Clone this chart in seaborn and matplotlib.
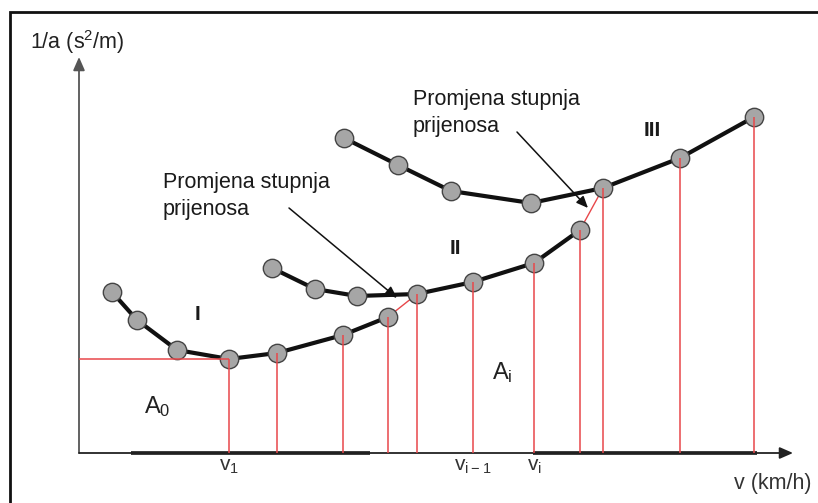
import matplotlib.pyplot as plt
import pandas as pd
import seaborn as sns
from matplotlib.patches import Rectangle

# speed v (km/h) and 1/a (s2/m), per gear
gear1_v = [6.6, 11.6, 19.6, 30.0, 39.6, 52.8, 61.8]
gear1_inv_a = [1.61, 1.33, 1.03, 0.94, 1.00, 1.18, 1.36]
gear2_v = [38.6, 47.2, 55.6, 67.6, 78.8, 91.0, 100.2]
gear2_inv_a = [1.85, 1.64, 1.57, 1.59, 1.71, 1.90, 2.23]
gear3_v = [53.0, 63.8, 74.4, 90.4, 104.8, 120.2, 135.0]
gear3_inv_a = [3.15, 2.88, 2.62, 2.50, 2.65, 2.95, 3.36]

# points of the optimal gear that are used for integration
first_used = {"I": 3, "II": 3, "III": 4}

gear_labels = ["I", "II", "III"]
gear_label_pos = [(23.8, 1.38), (75.2, 2.05), (114.6, 3.23)]
tick_labels = ["v$_1$", "v$_{i\u22121}$", "v$_i$"]
tick_v = [30.0, 78.8, 91.0]
thick_axis_parts = [(10.4, 58.2), (90.8, 135.6)]

# gear change notes: text corner, arrow start, arrow tip
notes_text = [(16.8, 2.81), (66.8, 3.64)]
notes_from = [(42.0, 2.45), (87.6, 3.21)]
notes_to = [(63.6, 1.55), (101.8, 2.45)]

frames = []
for name, v, inv_a in zip(gear_labels, [gear1_v, gear2_v, gear3_v],
                          [gear1_inv_a, gear2_inv_a, gear3_inv_a]):
    frames.append(pd.DataFrame({"gear": name, "v": v, "inv_a": inv_a}))
df = pd.concat(frames, ignore_index=True)

env = pd.concat(
    [f.iloc[first_used[g]:] for g, f in zip(gear_labels, frames)],
    ignore_index=True,
)

sns.set_style("white")
plt.rcParams["font.family"] = ["Liberation Sans", "DejaVu Sans"]
plt.rcParams["mathtext.default"] = "regular"

fig = plt.figure(figsize=(8.18, 5.03), dpi=100)
ax = fig.add_axes([0, 0, 1, 1])
ax.set_xlim(-15.8, 147.8)
ax.set_ylim(-0.5, 4.53)
ax.axis("off")

fig.patches.append(Rectangle((9.5 / 818, -0.1), 1.2, 1 - 12.5 / 503 + 0.1,
                             transform=fig.transFigure, fill=False,
                             edgecolor="#111111", linewidth=2))

# axes with arrows
ax.annotate("", xy=(0, 3.96), xytext=(0, 0),
            arrowprops=dict(arrowstyle="-|>,head_length=0.8,head_width=0.35",
                            color="#555555", lw=1.3, shrinkA=0, shrinkB=0))
ax.annotate("", xy=(142.8, 0), xytext=(0, 0),
            arrowprops=dict(arrowstyle="-|>,head_length=0.8,head_width=0.35",
                            color="#222222", lw=1.3, shrinkA=0, shrinkB=0))
for a, b in thick_axis_parts:
    ax.plot([a, b], [0, 0], color="#111111", lw=2.6, solid_capstyle="butt", zorder=2)

# red integration lines
red = "#e8474a"
sns.lineplot(data=env, x="v", y="inv_a", sort=False, color=red, lw=1,
             ax=ax, zorder=1, legend=False)
ax.vlines(env["v"], 0, env["inv_a"], colors=red, lw=1.1, zorder=5)
ax.hlines(env["inv_a"].iloc[0], 0, env["v"].iloc[0], colors=red, lw=1.1, zorder=5)

# gear curves
sns.lineplot(data=df, x="v", y="inv_a", units="gear", estimator=None, sort=False,
             color="#111111", lw=3, ax=ax, zorder=2, legend=False)
sns.scatterplot(data=df, x="v", y="inv_a", s=175, color="#a6a6a6",
                edgecolor="#444444", linewidth=1, ax=ax, zorder=4, legend=False)

txt = "#1a1a1a"
for lab, (x, y) in zip(gear_labels, gear_label_pos):
    ax.text(x, y, lab, fontsize=15, fontweight="bold", color=txt,
            ha="center", va="center")

for lab, x in zip(tick_labels, tick_v):
    ax.text(x, -0.045, lab, fontsize=15, color="#333333", ha="center", va="top")

ax.text(15.6, 0.46, "A$_0$", fontsize=17, color="#222222", ha="center", va="center")
ax.text(84.6, 0.80, "A$_i$", fontsize=17, color="#222222", ha="center", va="center")

ax.text(-9.8, 4.11, "1/a (s$^2$/m)", fontsize=15.5, color="#222222",
        ha="left", va="center")
ax.text(146.6, -0.30, "v (km/h)", fontsize=15.5, color="#333333",
        ha="right", va="center")

arrow_kw = dict(arrowstyle="-|>,head_length=0.7,head_width=0.3",
                color="#111111", lw=1.1, shrinkA=0, shrinkB=0)
for (tx, ty), start, tip in zip(notes_text, notes_from, notes_to):
    ax.annotate("", xy=tip, xytext=start, arrowprops=arrow_kw)
    ax.text(tx, ty, "Promjena stupnja\nprijenosa", fontsize=15.5, color=txt,
            ha="left", va="top", linespacing=1.35)

fig.savefig("out.png", dpi=100)
